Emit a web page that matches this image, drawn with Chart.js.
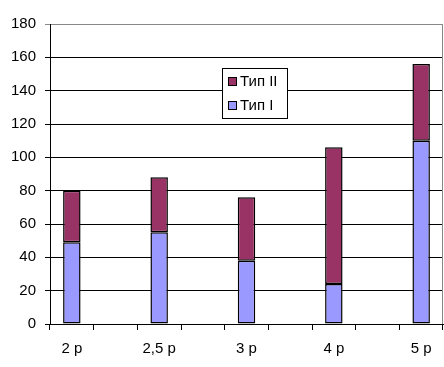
<!DOCTYPE html>
<html>
<head>
<meta charset="utf-8">
<script src="https://cdn.jsdelivr.net/npm/chart.js@4"></script>
<style>
  html, body { margin: 0; padding: 0; background: #fff; }
  #wrap { width: 444px; height: 367px; }
</style>
</head>
<body>
<div id="wrap"><canvas id="myChart"></canvas></div>
<script>
// categories (empty slots between the labelled ones, as in the original)
const xLabels = ['2 р', '', '2,5 р', '', '3 р', '', '4 р', '', '5 р'];
const typeI  = [49, null, 55, null, 38, null, 24, null, 110];
const typeII = [31, null, 33, null, 38, null, 82, null, 46];
const yTicks = [0, 20, 40, 60, 80, 100, 120, 140, 160, 180];

const FONT = '"Liberation Sans", Arial, sans-serif';
Chart.defaults.color = '#000';
Chart.defaults.font.family = FONT;

// legend box drawn inside the plot area
const boxLegend = {
  id: 'boxLegend',
  afterDraw(chart) {
    const ctx = chart.ctx, a = chart.chartArea;
    const x = a.left + 172, y = a.top + 44, w = 65, h = 50;
    ctx.save();
    ctx.fillStyle = '#fff';
    ctx.fillRect(x, y, w, h);
    ctx.strokeStyle = '#000';
    ctx.lineWidth = 1;
    ctx.strokeRect(x + 0.5, y + 0.5, w, h);
    const items = chart.data.datasets.slice().reverse();
    ctx.font = '15px ' + FONT;
    ctx.textBaseline = 'middle';
    items.forEach((ds, i) => {
      const cy = y + 13 + i * 24;
      ctx.fillStyle = ds.backgroundColor;
      ctx.fillRect(x + 6, cy - 4, 8, 8);
      ctx.strokeRect(x + 6.5, cy - 3.5, 8, 8);
      ctx.fillStyle = '#000';
      ctx.fillText(ds.label, x + 18, cy + 1);
    });
    // grey right border of plot
    ctx.strokeStyle = '#888';
    ctx.beginPath();
    ctx.moveTo(a.right - 0.5, a.top);
    ctx.lineTo(a.right - 0.5, a.bottom);
    ctx.stroke();
    ctx.restore();
  }
};

new Chart(myChart, {
  type: 'bar',
  data: {
    labels: xLabels,
    datasets: [
      {
        label: 'Тип I',
        data: typeI,
        backgroundColor: '#9999FF',
        borderColor: '#000',
        borderWidth: 1.5,
        borderSkipped: false
      }, {
        label: 'Тип II',
        data: typeII,
        backgroundColor: '#993366',
        borderColor: '#000',
        borderWidth: 1.5,
        borderSkipped: false
      }]
  },
  options: {
    responsive: true,
    maintainAspectRatio: false,
    animation: false,
    layout: { padding: { top: 24, right: 1, left: 0, bottom: 0 } },
    datasets: { bar: { barPercentage: 0.4, categoryPercentage: 1 } },
    scales: {
      x: {
        stacked: true,
        grid: {
          offset: true,
          drawOnChartArea: false,
          color: '#000',
          tickLength: 6
        },
        border: { color: '#000' },
        ticks: { font: { size: 15 }, padding: 10, maxRotation: 0, autoSkip: false },
        afterFit(scale) { scale.height = 43; }
      },
      y: {
        stacked: true,
        min: 0,
        max: 180,
        afterBuildTicks(scale) { scale.ticks = yTicks.map(v => ({ value: v })); },
        grid: {
          color: ctx => ctx.tick && ctx.tick.value === 180 ? '#888' : '#000',
          tickLength: 5
        },
        border: { color: '#000' },
        ticks: { font: { size: 15 }, padding: 9 },
        afterFit(scale) { scale.width = 50; }
      }
    },
    plugins: {
      legend: { display: false },
      tooltip: { enabled: false }
    }
  },
  plugins: [boxLegend]
});
</script>
</body>
</html>
